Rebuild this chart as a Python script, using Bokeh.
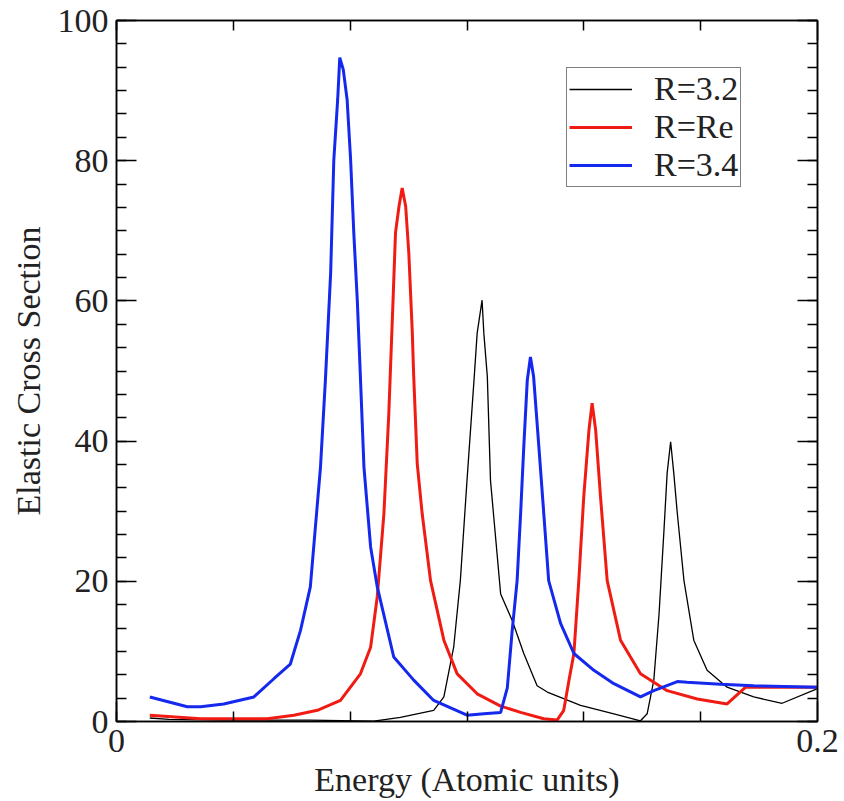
from bokeh.plotting import figure
from bokeh.models import Range1d, FixedTicker, LinearAxis, Legend, LegendItem
from bokeh.embed import file_html
from bokeh.resources import INLINE

# ---- data ----
x_r32 = [0.0095, 0.015, 0.03, 0.055, 0.0734, 0.081, 0.0905, 0.0934, 0.0962, 0.0981, 0.1, 0.102,
         0.1029, 0.1043, 0.1048, 0.1058, 0.1067, 0.1096, 0.1129, 0.1162, 0.12, 0.1229, 0.1324,
         0.1419, 0.1495, 0.1514, 0.1533, 0.1548, 0.1562, 0.1571, 0.1581, 0.159, 0.16, 0.1619,
         0.1647, 0.1685, 0.1742, 0.1818, 0.1899, 0.2]
y_r32 = [0.5, 0.3, 0.2, 0.2, 0.05, 0.6, 1.6, 3.5, 10.6, 20.1, 34.4, 48.7,
         55.4, 60.1, 55.4, 49.2, 34.4, 18.2, 14.4, 9.7, 5.1, 4.2, 2.3,
         1.1, 0.1, 1.1, 5.9, 15.4, 27.3, 35.4, 39.9, 35.4, 29.7, 20.1,
         11.6, 7.3, 4.9, 3.5, 2.6, 4.7]

x_rre = [0.0095, 0.024, 0.043, 0.0506, 0.0573, 0.0639, 0.0696, 0.0725, 0.0744, 0.0763, 0.0777,
         0.0789, 0.0796, 0.0806, 0.0815, 0.0825, 0.0834, 0.0844, 0.0848, 0.0858, 0.0872, 0.0896,
         0.0934, 0.0972, 0.1029, 0.1096, 0.1153, 0.1219, 0.1257, 0.1276, 0.1291, 0.1305, 0.1319,
         0.1333, 0.1348, 0.1357, 0.1367, 0.1381, 0.14, 0.1438, 0.1495, 0.1571, 0.1657, 0.1742,
         0.1795, 0.2]
y_rre = [0.9, 0.4, 0.4, 0.9, 1.6, 3.0, 6.8, 10.6, 17.8, 29.7, 44.0,
         60.1, 69.7, 73.5, 76.1, 73.5, 66.8, 55.4, 49.2, 36.8, 29.7, 20.1,
         11.6, 6.8, 3.95, 2.2, 1.3, 0.4, 0.2, 1.6, 5.9, 9.7, 20.1,
         32.0, 41.6, 45.4, 41.6, 32.0, 20.1, 11.6, 6.8, 4.4, 3.2, 2.5,
         4.9, 4.9]

x_r34 = [0.0095, 0.0202, 0.024, 0.0306, 0.0392, 0.0449, 0.0496, 0.0525, 0.0553, 0.0582, 0.0596,
         0.0611, 0.062, 0.0631, 0.0637, 0.0647, 0.0658, 0.0668, 0.0677, 0.0687, 0.0696, 0.0706,
         0.0725, 0.0744, 0.0791, 0.0848, 0.0905, 0.1, 0.1048, 0.1096, 0.1115, 0.1129, 0.1143,
         0.1153, 0.1162, 0.1172, 0.1181, 0.119, 0.1205, 0.1219, 0.1233, 0.1267, 0.1305, 0.1362,
         0.1419, 0.1495, 0.1533, 0.16, 0.1628, 0.1723, 0.1818, 0.2]
y_r34 = [3.5, 2.1, 2.1, 2.5, 3.5, 6.1, 8.2, 13.0, 19.2, 36.3, 48.7,
         64.0, 80.1, 88.7, 94.7, 93.0, 88.7, 80.1, 69.7, 60.1, 49.0, 36.3,
         24.9, 19.2, 9.2, 5.9, 3.0, 0.9, 1.1, 1.3, 4.8, 13.0, 20.1,
         29.7, 39.2, 48.7, 52.0, 49.2, 39.2, 29.7, 20.1, 14.0, 9.7, 7.3,
         5.4, 3.5, 4.4, 5.7, 5.6, 5.3, 5.1, 4.9]

labels = ["R=3.2", "R=Re", "R=3.4"]
x_major = [0, 0.2]
x_minor = [i * 0.2 / 6 for i in range(7)]
y_major = [0, 20, 40, 60, 80, 100]
y_minor = [i * 20 / 6 for i in range(31)]

FONT = "Liberation Serif"
FS = "34px"

p = figure(width=844, height=801, output_backend="svg", toolbar_location=None,
           x_range=Range1d(0, 0.2), y_range=Range1d(0, 100),
           min_border_left=116, min_border_right=27, min_border_top=20, min_border_bottom=80)
p.background_fill_color = "white"
p.border_fill_color = "white"
p.grid.visible = False
p.outline_line_color = "black"
p.outline_line_width = 1.5

bottom = p.below[0]
left = p.left[0]
bottom.axis_label = "Energy (Atomic units)"
left.axis_label = "Elastic Cross Section"

r1 = p.line(x_r32, y_r32, line_color="black", line_width=1.3)
r2 = p.line(x_rre, y_rre, line_color="#f01c14", line_width=3)
r3 = p.line(x_r34, y_r34, line_color="#1428ee", line_width=3)

top = LinearAxis()
right = LinearAxis()
p.add_layout(top, "above")
p.add_layout(right, "right")

for ax in [bottom, top]:
    ax.ticker = FixedTicker(ticks=x_major, minor_ticks=x_minor)
for ax in [left, right]:
    ax.ticker = FixedTicker(ticks=y_major, minor_ticks=y_minor)

for ax in [bottom, left, top, right]:
    ax.major_tick_in = 20
    ax.major_tick_out = 0
    ax.minor_tick_in = 10
    ax.minor_tick_out = 0
    ax.axis_line_color = "black"
    ax.axis_line_width = 1.5
    ax.major_tick_line_width = 1.5
    ax.minor_tick_line_width = 1.5
    ax.major_tick_line_color = "black"
    ax.minor_tick_line_color = "black"
    ax.major_label_text_font = FONT
    ax.major_label_text_font_size = FS
    ax.major_label_text_color = "#222222"
    ax.axis_label_text_font = FONT
    ax.axis_label_text_font_size = FS
    ax.axis_label_text_font_style = "normal"
    ax.axis_label_text_color = "#222222"

for ax in [top, right]:
    ax.major_label_text_font_size = "0px"
    ax.major_label_text_color = None
    ax.major_label_standoff = 0

bottom.major_label_overrides = {0: "0", 0.2: "0.2"}
bottom.major_label_standoff = 8
bottom.axis_label_standoff = 6
left.major_label_standoff = 8
left.axis_label_standoff = 8

legend = Legend(items=[LegendItem(label=labels[0], renderers=[r1]),
                       LegendItem(label=labels[1], renderers=[r2]),
                       LegendItem(label=labels[2], renderers=[r3])],
                location=(450, 534), margin=0, padding=2, spacing=0,
                glyph_width=63, glyph_height=34, label_height=34, label_standoff=22,
                label_text_font=FONT, label_text_font_size=FS, label_text_color="#222222",
                border_line_color="black", border_line_width=1.5,
                background_fill_color="white", background_fill_alpha=1.0)
p.add_layout(legend)

open("out.html", "w").write(file_html(p, INLINE))
